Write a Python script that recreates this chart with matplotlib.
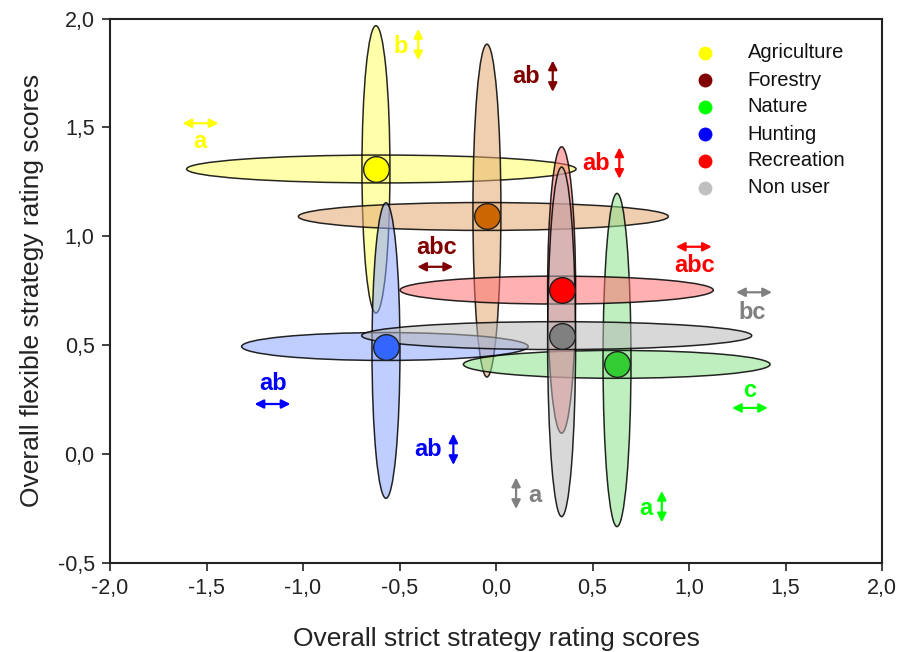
import matplotlib
matplotlib.use("Agg")
import matplotlib.pyplot as plt
from matplotlib.patches import Ellipse

plt.rcParams['font.family'] = ['Liberation Sans', 'DejaVu Sans']

# ---------------- data ----------------
groups = ["Agriculture", "Forestry", "Nature", "Hunting", "Recreation", "Non user"]
x_mean = [-0.622, -0.047, 0.627, -0.570, 0.340, 0.340]
y_mean = [1.309, 1.091, 0.412, 0.494, 0.753, 0.544]
x_low = [-1.603, -1.024, -0.169, -1.318, -0.497, -0.696]
x_high = [0.415, 0.893, 1.420, 0.167, 1.126, 1.325]
y_low = [0.648, 0.354, -0.333, -0.203, 0.096, -0.287]
y_high = [1.967, 1.882, 1.197, 1.154, 1.411, 1.318]

# significance letters: (group index, axis, letters)
sig_group = [0, 0, 1, 4, 1, 4, 5, 3, 2, 3, 5, 2]
sig_axis = ["x", "y", "y", "y", "x", "x", "x", "x", "x", "y", "y", "y"]
sig_text = ["a", "b", "ab", "ab", "abc", "abc", "bc", "ab", "c", "ab", "a", "a"]

x_ticks = [-2.0, -1.5, -1.0, -0.5, 0.0, 0.5, 1.0, 1.5, 2.0]
y_ticks = [-0.5, 0.0, 0.5, 1.0, 1.5, 2.0]

# ---------------- styles / layout ----------------
fill_colors = ["#ffff64", "#e3a96f", "#8be38b", "#8ba7ff", "#ff6f6f", "#b8b8b8"]
dot_colors = ["#ffff00", "#cc6600", "#33cc33", "#3366ff", "#ff0000", "#808080"]
legend_colors = ["#ffff00", "#800000", "#00ff00", "#0000ff", "#ff0000", "#c0c0c0"]
sig_colors = ["#ffff00", "#800000", "#00ff00", "#0000ff", "#ff0000", "#808080"]

# text position (data) and arrow centre (data) for each letter label
sig_text_xy = [(-1.534, 1.434), (-0.492, 1.871), (0.155, 1.733), (0.518, 1.335),
               (-0.307, 0.950), (1.031, 0.864), (1.330, 0.649), (-1.155, 0.326),
               (1.316, 0.290), (-0.354, 0.019), (0.202, -0.188), (0.776, -0.249)]
sig_arrow_xy = [(-1.531, 1.519), (-0.403, 1.880), (0.294, 1.735), (0.639, 1.336),
                (-0.315, 0.860), (1.025, 0.952), (1.337, 0.743), (-1.158, 0.230),
                (1.316, 0.212), (-0.221, 0.022), (0.104, -0.180), (0.859, -0.241)]
arrow_half_x = 0.093
arrow_half_y = 0.072

thick_x = 0.145   # width of vertical ellipses in x units
thick_y = 0.128   # height of horizontal ellipses in y units

W, H = 901, 652
fig = plt.figure(figsize=(W / 100, H / 100), dpi=100)
ax = fig.add_axes([110 / W, (H - 563) / H, (882 - 110) / W, (563 - 18.5) / H])
ax.set_xlim(-2.0, 2.0)
ax.set_ylim(-0.5, 2.0)

z = 2
for i in range(len(groups)):
    cxh = (x_low[i] + x_high[i]) / 2
    cyv = (y_low[i] + y_high[i]) / 2
    eh = Ellipse((cxh, y_mean[i]), x_high[i] - x_low[i], thick_y,
                 facecolor=fill_colors[i], alpha=0.55, edgecolor='none', zorder=z)
    ev = Ellipse((x_mean[i], cyv), thick_x, y_high[i] - y_low[i],
                 facecolor=fill_colors[i], alpha=0.55, edgecolor='none', zorder=z)
    ax.add_patch(eh)
    ax.add_patch(ev)
    for e in (Ellipse((cxh, y_mean[i]), x_high[i] - x_low[i], thick_y),
              Ellipse((x_mean[i], cyv), thick_x, y_high[i] - y_low[i])):
        e.set_facecolor('none')
        e.set_edgecolor('black')
        e.set_linewidth(1.1)
        e.set_alpha(0.85)
        e.set_zorder(z + 0.5)
        ax.add_patch(e)
    z += 1

for i in range(len(groups)):
    ax.plot(x_mean[i], y_mean[i], 'o', markersize=18.5, markerfacecolor=dot_colors[i],
            markeredgecolor='#202020', markeredgewidth=1.0, zorder=20)

# significance letters with double arrows
for k in range(len(sig_text)):
    c = sig_colors[sig_group[k]]
    tx, ty = sig_text_xy[k]
    ax.text(tx, ty, sig_text[k], color=c, fontsize=17, fontweight='bold',
            ha='center', va='center', zorder=25)
    axc, ayc = sig_arrow_xy[k]
    if sig_axis[k] == "x":
        p0, p1 = (axc - arrow_half_x, ayc), (axc + arrow_half_x, ayc)
    else:
        p0, p1 = (axc, ayc - arrow_half_y), (axc, ayc + arrow_half_y)
    ax.annotate("", xy=p1, xytext=p0,
                arrowprops=dict(arrowstyle='<|-|>', color=c, lw=1.6,
                                mutation_scale=13, shrinkA=0, shrinkB=0),
                zorder=25)

# legend (manual)
leg_top = (563 - 53) / 544.5
leg_step = 27 / 544.5
for i, g in enumerate(groups):
    yy = leg_top - i * leg_step
    ax.plot([0.771], [yy], 'o', transform=ax.transAxes, markersize=10,
            markerfacecolor=legend_colors[i], markeredgecolor='none', zorder=30)
    ax.text(0.826, yy, g, transform=ax.transAxes, fontsize=14.5, color='#111111',
            ha='left', va='center', zorder=30)

ax.set_xticks(x_ticks)
ax.set_yticks(y_ticks)
ax.set_xticklabels([f"{v:.1f}".replace('.', ',') for v in x_ticks])
ax.set_yticklabels([f"{v:.1f}".replace('.', ',') for v in y_ticks])
ax.tick_params(direction='out', length=6, width=1.2, labelsize=15.5,
               labelcolor='#222222', color='#222222', pad=5)
for s in ax.spines.values():
    s.set_linewidth(1.5)
    s.set_color('#222222')

ax.set_xlabel("Overall strict strategy rating scores", fontsize=19, color='#222222', labelpad=20)
ax.set_ylabel("Overall flexible strategy rating scores", fontsize=19, color='#222222', labelpad=10)

fig.savefig("out.png", dpi=100)
